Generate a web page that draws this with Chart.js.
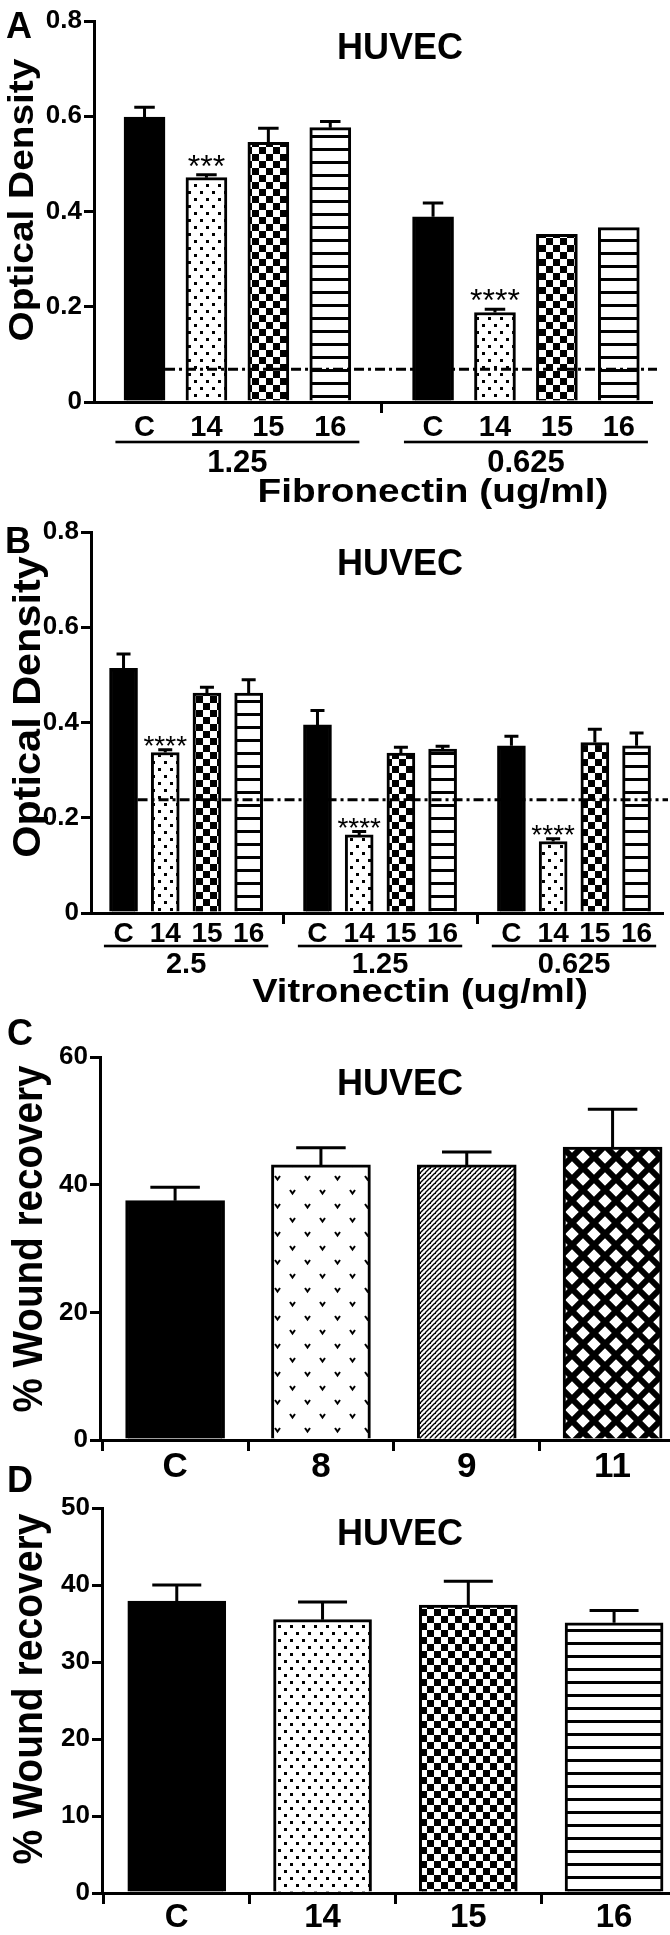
<!DOCTYPE html>
<html>
<head>
<meta charset="utf-8">
<script src="https://cdn.jsdelivr.net/npm/chart.js@4.4.1/dist/chart.umd.min.js"></script>
<style>
  html, body { margin: 0; padding: 0; background: #fff; }
  #wrap { position: relative; width: 670px; height: 1935px; overflow: hidden; background: #fff; }
  #wrap canvas { position: absolute; left: 0; }
</style>
</head>
<body>
<div id="wrap">
  <canvas id="cA"></canvas>
  <canvas id="cB"></canvas>
  <canvas id="cC"></canvas>
  <canvas id="cD"></canvas>
</div>
<script>
// ================= DATA =================
// Panel A — HUVEC adhesion on Fibronectin (ug/ml)
const fnCoatings  = ['1.25', '0.625'];
const fnCompounds = ['C', '14', '15', '16'];
const fnMean  = [0.598, 0.471, 0.545, 0.576,   0.389, 0.188, 0.352, 0.366];
const fnSem   = [0.021, 0.006, 0.030, 0.013,   0.029, 0.007, 0.000, 0.000];
const fnStars = ['', '***', '', '',            '', '****', '', ''];
const fnBackground = 0.069;

// Panel B — HUVEC adhesion on Vitronectin (ug/ml)
const vnCoatings  = ['2.5', '1.25', '0.625'];
const vnCompounds = ['C', '14', '15', '16'];
const vnMean  = [0.514, 0.337, 0.462, 0.462,   0.395, 0.164, 0.336, 0.344,   0.351, 0.150, 0.358, 0.351];
const vnSem   = [0.030, 0.006, 0.012, 0.028,   0.030, 0.007, 0.012, 0.006,   0.020, 0.006, 0.028, 0.027];
const vnStars = ['', '****', '', '',           '', '****', '', '',           '', '****', '', ''];
const vnBackground = 0.238;

// Panel C — % wound recovery
const woundCompoundsC = ['C', '8', '9', '11'];
const woundMeanC = [37.5, 43.1, 43.1, 45.9];
const woundSemC  = [2.1, 2.7, 2.0, 5.9];

// Panel D — % wound recovery
const woundCompoundsD = ['C', '14', '15', '16'];
const woundMeanD = [37.9, 35.5, 37.4, 35.1];
const woundSemD  = [2.1, 2.3, 3.1, 1.6];

// Tick labels
const odTicks     = [0, 0.2, 0.4, 0.6, 0.8];
const woundTicksC = [0, 20, 40, 60];
const woundTicksD = [0, 10, 20, 30, 40, 50];

// ================= STYLE / LAYOUT =================
const W = 670;
const FONT = "'Liberation Sans', Arial, Helvetica, sans-serif";
const fillKind = { 'C': 'black', '14': 'dots', '15': 'checker', '16': 'hlines', '8': 'vmarks', '9': 'diag', '11': 'diamond' };

function makePattern(kind) {
  if (kind === 'black') return '#000';
  const c = document.createElement('canvas');
  const g = c.getContext('2d');
  const init = (w, h) => { c.width = w; c.height = h; g.fillStyle = '#fff'; g.fillRect(0, 0, w, h); g.fillStyle = '#000'; g.strokeStyle = '#000'; };
  if (kind === 'dots') {
    init(12, 14); g.fillRect(2, 2, 3, 3); g.fillRect(8, 9, 3, 3);
  } else if (kind === 'checker') {
    init(14, 14); g.fillRect(0, 0, 7, 7); g.fillRect(7, 7, 7, 7);
  } else if (kind === 'hlines') {
    init(10, 13); g.fillRect(0, 5, 10, 3);
  } else if (kind === 'vmarks') {
    init(30, 28); g.lineWidth = 2;
    const v = (x, y) => { g.beginPath(); g.moveTo(x, y); g.lineTo(x + 2.5, y + 3.5); g.lineTo(x + 5, y); g.stroke(); };
    v(5, 5); v(20, 19);
  } else if (kind === 'diag') {
    init(5, 5); g.lineWidth = 1.4; g.beginPath();
    for (let k = -5; k <= 10; k += 5) { g.moveTo(k, 5); g.lineTo(k + 5, 0); }
    g.stroke();
    g.fillRect(0, 0, 1, 1);
  } else if (kind === 'diamond') {
    init(22, 22); g.lineWidth = 6; g.beginPath();
    [[-11,-11,33,33],[11,-11,33,11],[-11,11,11,33],[-11,33,33,-11],[-11,11,11,-11],[11,33,33,11]].forEach(s => { g.moveTo(s[0], s[1]); g.lineTo(s[2], s[3]); });
    g.stroke();
  }
  return g.createPattern(c, 'repeat');
}

function txt(ctx, s, x, y, size, o) {
  o = o || {};
  ctx.save();
  ctx.font = (o.weight || 'bold') + ' ' + size + 'px ' + FONT;
  ctx.fillStyle = '#000';
  ctx.textAlign = o.align || 'center';
  ctx.textBaseline = 'alphabetic';
  ctx.translate(x, y);
  if (o.rot) ctx.rotate(o.rot);
  ctx.scale(o.sx || 1, 1);
  ctx.fillText(s, 0, 0);
  ctx.restore();
}

const panels = [
  { id: 'cA', top: 0, h: 510,
    axisX: 94, plotTop: 21, plotBottom: 402, plotRight: 651,
    xMin: -0.816, xMax: 8.18, gap: 0.66, barPx: 41,
    compounds: fnCompounds, groups: fnCoatings, mean: fnMean, sem: fnSem, stars: fnStars, background: fnBackground,
    yMax: 0.8, yTicks: odTicks,
    letter: { s: 'A', x: 6, y: 38, size: 36 },
    title: { x: 400, y: 59, size: 36, sx: 1.0 },
    yTitle: { s: 'Optical Density', x: 33, y: 200, size: 35, sx: 1.11 },
    cat: { y: 435.5, size: 29 }, underline: 442, grp: { y: 472, size: 31 },
    xTitle: { s: 'Fibronectin (ug/ml)', x: 433, y: 502, size: 34, sx: 1.14 },
    star: { size: 32, off: 17 } },
  { id: 'cB', top: 500, h: 515,
    axisX: 91, plotTop: 532, plotBottom: 913, plotRight: 662,
    xMin: -0.78, xMax: 12.91, gap: 0.65, barPx: 28,
    compounds: vnCompounds, groups: vnCoatings, mean: vnMean, sem: vnSem, stars: vnStars, background: vnBackground,
    yMax: 0.8, yTicks: odTicks,
    letter: { s: 'B', x: 5, y: 553, size: 36 },
    title: { x: 400, y: 575, size: 36, sx: 1.0 },
    yTitle: { s: 'Optical Density', x: 40, y: 707, size: 38, sx: 1.09 },
    cat: { y: 942, size: 28 }, underline: 946, grp: { y: 973, size: 29 },
    xTitle: { s: 'Vitronectin (ug/ml)', x: 420, y: 1002, size: 34, sx: 1.12 },
    star: { size: 28, off: 11 } },
  { id: 'cC', top: 1003, h: 487,
    axisX: 100, plotTop: 1057, plotBottom: 1440, plotRight: 668,
    xMin: -0.515, xMax: 3.38, gap: 0, barPx: 99,
    compounds: woundCompoundsC, groups: null, mean: woundMeanC, sem: woundSemC, stars: null, background: null,
    yMax: 60, yTicks: woundTicksC,
    letter: { s: 'C', x: 7, y: 1045, size: 36 },
    title: { x: 400, y: 1095, size: 36, sx: 1.0 },
    yTitle: { s: '% Wound recovery', x: 42, y: 1239, size: 42, sx: 0.92 },
    cat: { y: 1477, size: 35 } },
  { id: 'cD', top: 1455, h: 480,
    axisX: 102, plotTop: 1508, plotBottom: 1893, plotRight: 668,
    xMin: -0.513, xMax: 3.37, gap: 0, barPx: 98,
    compounds: woundCompoundsD, groups: null, mean: woundMeanD, sem: woundSemD, stars: null, background: null,
    yMax: 50, yTicks: woundTicksD,
    letter: { s: 'D', x: 7, y: 1492, size: 36 },
    title: { x: 400, y: 1545, size: 36, sx: 1.0 },
    yTitle: { s: '% Wound recovery', x: 42, y: 1689, size: 42, sx: 0.93 },
    cat: { y: 1927, size: 33 } }
];

function buildPanel(P) {
  const canvas = document.getElementById(P.id);
  canvas.width = W; canvas.height = P.h;
  canvas.style.width = W + 'px'; canvas.style.height = P.h + 'px';
  canvas.style.top = P.top + 'px';

  const gs = P.compounds.length;
  const nBars = P.mean.length;
  const pos = i => Math.floor(i / gs) * (gs + P.gap) + (i % gs);
  const labelOf = i => P.compounds[i % gs];
  const nGroups = P.groups ? P.groups.length : 0;
  const groupCenter = g => g * (gs + P.gap) + (gs - 1) / 2;
  const xTickVals = P.groups ? P.groups.map((_, g) => groupCenter(g)) : P.mean.map((_, i) => pos(i));

  const points = P.mean.map((v, i) => ({ x: pos(i), y: v }));
  const fills = P.mean.map((_, i) => makePattern(fillKind[labelOf(i)]));

  const decor = {
    id: 'decor' + P.id,
    afterDatasetsDraw(chart) {
      const ctx = chart.ctx, xs = chart.scales.x, ys = chart.scales.y;
      ctx.save();
      ctx.strokeStyle = '#000'; ctx.lineWidth = 3; ctx.lineCap = 'butt';
      // error bars (upper SEM only)
      for (let i = 0; i < nBars; i++) {
        if (!(P.sem[i] > 0)) continue;
        const x = xs.getPixelForValue(pos(i));
        const y0 = ys.getPixelForValue(P.mean[i]);
        const y1 = ys.getPixelForValue(P.mean[i] + P.sem[i]);
        const hw = P.barPx / 4;
        ctx.beginPath();
        ctx.moveTo(x, y0); ctx.lineTo(x, y1);
        ctx.moveTo(x - hw, y1); ctx.lineTo(x + hw, y1);
        ctx.stroke();
      }
      // background (no-cell) dashed line
      if (P.background != null) {
        const yb = ys.getPixelForValue(P.background);
        ctx.setLineDash([10, 4, 3, 4]);
        ctx.beginPath();
        ctx.moveTo(xs.getPixelForValue(pos(0)) + P.barPx / 2, yb);
        ctx.lineTo(chart.chartArea.right + 6, yb);
        ctx.stroke();
        ctx.setLineDash([]);
      }
      // significance stars
      if (P.stars) {
        for (let i = 0; i < nBars; i++) {
          if (!P.stars[i]) continue;
          const x = xs.getPixelForValue(pos(i));
          const yc = ys.getPixelForValue(P.mean[i] + P.sem[i]) - P.star.off;
          txt(ctx, P.stars[i], x, yc + 0.59 * P.star.size, P.star.size, { weight: 'normal' });
        }
      }
      ctx.restore();
    },
    afterDraw(chart) {
      const ctx = chart.ctx, xs = chart.scales.x;
      ctx.save();
      ctx.translate(0, -P.top);
      txt(ctx, P.letter.s, P.letter.x, P.letter.y, P.letter.size, { align: 'left' });
      txt(ctx, 'HUVEC', P.title.x, P.title.y, P.title.size, { sx: P.title.sx });
      txt(ctx, P.yTitle.s, P.yTitle.x, P.yTitle.y, P.yTitle.size, { rot: -Math.PI / 2, sx: P.yTitle.sx });
      for (let i = 0; i < nBars; i++) {
        txt(ctx, labelOf(i), xs.getPixelForValue(pos(i)), P.cat.y, P.cat.size);
      }
      if (P.groups) {
        ctx.fillStyle = '#000';
        for (let g = 0; g < nGroups; g++) {
          const a = xs.getPixelForValue(g * (gs + P.gap) - 0.47);
          const b = xs.getPixelForValue(g * (gs + P.gap) + gs - 1 + 0.47);
          ctx.fillRect(a, P.underline - 1.3, b - a, 2.6);
          txt(ctx, P.groups[g], xs.getPixelForValue(groupCenter(g)), P.grp.y, P.grp.size);
        }
        txt(ctx, P.xTitle.s, P.xTitle.x, P.xTitle.y, P.xTitle.size, { sx: P.xTitle.sx });
      }
      ctx.restore();
    }
  };

  return new Chart(canvas, {
    type: 'bar',
    data: {
      datasets: [{
        data: points,
        backgroundColor: fills,
        borderColor: '#000',
        borderWidth: 3,
        borderSkipped: 'start',
        barThickness: P.barPx
      }]
    },
    options: {
      responsive: false,
      animation: false,
      devicePixelRatio: 1,
      layout: { padding: { left: 0, top: P.plotTop - P.top, right: W - P.plotRight, bottom: 0 } },
      plugins: { legend: { display: false }, tooltip: { enabled: false }, title: { display: false } },
      scales: {
        x: {
          type: 'linear', min: P.xMin, max: P.xMax, offset: false,
          grid: { display: true, drawOnChartArea: false, drawTicks: true, tickLength: 11, color: '#000', lineWidth: 3 },
          border: { display: true, color: '#000', width: 3 },
          ticks: { display: false },
          afterBuildTicks: s => { s.ticks = xTickVals.map(v => ({ value: v })); },
          afterFit: s => { s.height = P.h - (P.plotBottom - P.top); }
        },
        y: {
          type: 'linear', min: 0, max: P.yMax,
          grid: { display: true, drawOnChartArea: false, drawTicks: true, tickLength: 10, color: '#000', lineWidth: 3 },
          border: { display: true, color: '#000', width: 3 },
          ticks: { color: '#000', padding: 2, font: { family: FONT, weight: 'bold', size: 26 }, callback: v => String(v) },
          afterBuildTicks: s => { s.ticks = P.yTicks.map(v => ({ value: v })); },
          afterFit: s => { s.width = P.axisX; }
        }
      }
    },
    plugins: [decor]
  });
}

panels.forEach(buildPanel);
</script>
</body>
</html>
